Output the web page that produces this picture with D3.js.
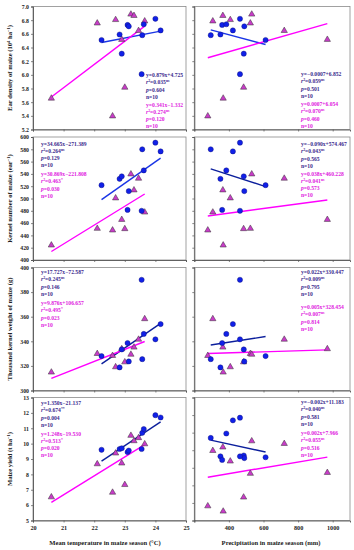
<!DOCTYPE html>
<html><head><meta charset="utf-8">
<script src="https://cdn.jsdelivr.net/npm/d3@7"></script>
<style>body{margin:0;background:#fff}</style>
</head><body><svg id="c" width="354" height="550"></svg>
<script>
// Series A (blue circles) and series B (magenta triangles)
const temperatureA   = [22.24, 22.83, 22.90, 23.09, 23.13, 23.57, 23.62, 23.55, 24.00, 24.17];
const precipitationA = [612, 351, 486, 361, 489, 295, 385, 464, 464, 423];
const earDensityA    = [6.51, 6.59, 6.31, 6.73, 6.71, 6.58, 6.74, 6.01, 6.82, 6.65];
const kernelNumberA  = [521.7, 532, 536, 481.5, 512, 580, 545.7, 480, 590.8, 576.6];
const kernelWeightA  = [328, 318.8, 333.4, 338.6, 323.6, 325.5, 346, 390, 341.6, 354];
const yieldA         = [9.6, 9.65, 9.7, 9.45, 9.55, 10.7, 10.95, 9.65, 11.85, 11.7];

const temperatureB   = [20.6, 22.1, 22.6, 22.7, 22.9, 23.0, 23.2, 23.3, 23.45, 23.65];
const precipitationB = [367, 524, 278, 408, 969, 485, 532, 365, 720, 307];
const earDensityB    = [5.65, 6.75, 5.39, 6.80, 6.51, 5.81, 6.88, 6.86, 6.64, 6.78];
const kernelNumberB  = [423.4, 450.5, 447.8, 500, 465, 450, 539, 513, 532, 477];
const kernelWeightB  = [314.5, 329.6, 328, 318.8, 333.5, 322.8, 329, 334.8, 341.2, 357.9];
const yieldB         = [6.5, 8.65, 6.8, 9.35, 8.7, 7.3, 10.5, 10.15, 10.35, 9.95];

// Tick values
const tempTicks   = [20, 21, 22, 23, 24, 25];
const precipTicks = [200, 400, 600, 800, 1000];
const precipLabels= ["", "400", "600", "800", "1000"];
const earTicks    = [5.2, 5.4, 5.6, 5.8, 6.0, 6.2, 6.4, 6.6, 6.8, 7.0];
const kernelTicks = [400, 420, 440, 460, 480, 500, 520, 540, 560, 580, 600];
const weightTicks = [300, 320, 340, 360, 380, 400];
const yieldTicks  = [5, 6, 7, 8, 9, 10, 11, 12, 13];
const yieldTicksRight = [6, 7, 8, 9, 10, 11, 12, 13];

// Regression annotation texts [equation, r2, significance, p]
const statsTempA = [["y=0.879x+4.725","0.035","ns","0.604"],["y=34.665x\u2212271.389","0.264","ns","0.129"],["y=17.727x\u221272.587","0.245","ns","0.146"],["y=1.350x\u221221.137","0.674","**","0.004"]];
const statsTempB = [["y=0.341x\u22121.332","0.274","ns","0.120"],["y=30.869x\u2212221.808","0.463","*","0.030"],["y=9.876x+106.657","0.495","*","0.023"],["y=1.248x\u221219.530","0.513","*","0.020"]];
const statsPrecA = [["y=\u22120.0007+6.852","0.059","ns","0.501"],["y=\u22120.090x+574.467","0.043","ns","0.565"],["y=0.022x+330.447","0.009","ns","0.795"],["y=\u22120.002x+11.183","0.040","ns","0.581"]];
const statsPrecB = [["y=0.0007+6.054","0.070","ns","0.460"],["y=0.038x+460.228","0.041","ns","0.573"],["y=0.005x+328.454","0.007","ns","0.814"],["y=0.002x+7.966","0.055","ns","0.516"]];
const sampleSize = "n=10";

const font = "'Liberation Serif','Times New Roman',serif";
const colA = "#1020e8", colB = "#c83cc8", lineB = "#ff00ff";
const lineA = {L:["#1a35e6","#1a35e6","#0c1f9c","#0c1f9c"], R:["#1a35e6","#0c1f9c","#0c1f9c","#0c1f9c"]};
const txtA = "#3b2a8e", txtB = "#e020e0";
const svg = d3.select("#c");

const xL = d3.scaleLinear().domain([20, 25]).range([33, 186]);
const xR = d3.scaleLinear().domain([200, 1100]).range([194.3, 350]);
const rowTop = [6.5, 137, 267.5, 397.5], rowH = 123;

const rows = [
  {dom:[5.2,7.0], ticks:earTicks, fmt:d3.format(".1f"), a:earDensityA, b:earDensityB,
   title:[["Ear density of maize (10"],["4",1],[" ha"],["\u22121",1],[")"]]},
  {dom:[400,600], ticks:kernelTicks, fmt:d3.format("d"), a:kernelNumberA, b:kernelNumberB,
   title:[["Kernel number of maize (ear"],["\u22121",1],[")"]]},
  {dom:[300,400], ticks:weightTicks, fmt:d3.format("d"), a:kernelWeightA, b:kernelWeightB,
   title:[["Thousand kernel weight of maize (g)"]]},
  {dom:[5,13], domR:[6,13], ticks:yieldTicks, ticksR:yieldTicksRight, fmt:d3.format("d"), a:yieldA, b:yieldB,
   title:[["Maize yield (t ha"],["\u22121",1],[")"]]}
];
const annoPos = [
  {L:[146,75,104.5], R:[301,74,104]},
  {L:[41,143.5,174], R:[301,144,173.5]},
  {L:[41,272,303], R:[301,272,307]},
  {L:[41,403,433.5], R:[301,402,433]}
];

function fit(xs, ys){
  const mx=d3.mean(xs), my=d3.mean(ys);
  let sxy=0,sxx=0; xs.forEach((x,i)=>{sxy+=(x-mx)*(ys[i]-my); sxx+=(x-mx)*(x-mx);});
  const b=sxy/sxx; return x=>my+b*(x-mx);
}
function rich(sel, parts, fs){
  parts.forEach(p=>{
    if(p[1]) sel.append("tspan").attr("font-size",fs*0.68).attr("dy",-fs*0.38).text(p[0]);
    else {
      const t=sel.append("tspan").text(p[0]);
      if(sel.selectAll("tspan").size()>1) t.attr("dy",fs*0.38);
    }
  });
}
function anno(g, x, y, st, color){
  const fs=5.6, lh=7.3;
  const mk=(i)=>g.append("text").attr("x",x).attr("y",y+i*lh+2).attr("fill",color)
      .attr("font-family",font).attr("font-weight","bold").attr("font-size",fs);
  mk(0).text(st[0]);
  const t1=mk(1); t1.append("tspan").attr("font-style","italic").text("r");
  t1.append("tspan").attr("font-size",fs*0.68).attr("dy",-fs*0.38).text("2");
  t1.append("tspan").attr("dy",fs*0.38).text("="+st[1]);
  t1.append("tspan").attr("font-size",fs*0.68).attr("dy",-fs*0.38).text(st[2]);
  const t2=mk(2); t2.append("tspan").attr("font-style","italic").text("p"); t2.append("tspan").text("="+st[3]);
  mk(3).text(sampleSize);
}

function panel(r, ri, side){
  const x = side==="L"?xL:xR;
  const xsA = side==="L"?temperatureA:precipitationA;
  const xsB = side==="L"?temperatureB:precipitationB;
  const dom = (side==="R" && r.domR) ? r.domR : r.dom;
  const ticks = (side==="R" && r.ticksR) ? r.ticksR : r.ticks;
  const y = d3.scaleLinear().domain(dom).range([rowTop[ri]+rowH, rowTop[ri]]);
  const g = svg.append("g");
  const [x0,x1]=x.range(), [y1,y0]=y.range();
  g.append("rect").attr("x",x0).attr("y",y0).attr("width",x1-x0).attr("height",y1-y0)
    .attr("fill","none").attr("stroke","#8a8a8a").attr("stroke-width",0.8);
  const ya = d3.axisLeft(y).tickValues(ticks).tickSize(2).tickPadding(2)
    .tickFormat(side==="L"?r.fmt:()=> "");
  const yg = g.append("g").attr("transform",`translate(${x0},0)`).call(ya);
  const xa = d3.axisBottom(x).tickValues(side==="L"?tempTicks:precipTicks).tickSize(2).tickPadding(3)
    .tickFormat(ri===3 ? (side==="L"? d3.format("d") : (d,i)=>precipLabels[i]) : ()=>"");
  const xg = g.append("g").attr("transform",`translate(0,${y1})`).call(xa);
  [yg,xg].forEach(a=>{
    a.select(".domain").attr("stroke","#555").attr("stroke-width",0.9);
    a.selectAll(".tick line").attr("stroke","#555").attr("stroke-width",0.7);
    a.selectAll("text").attr("font-family",font).attr("font-weight","bold").attr("font-size",5.8).attr("fill","#222");
  });
  xg.selectAll("text").attr("font-size",6.2);
  [[xsA,r.a,lineA[side][ri]],[xsB,r.b,lineB]].forEach(([xs,ys,c])=>{
    const f=fit(xs,ys), e=d3.extent(xs);
    g.append("line").attr("x1",x(e[0])).attr("y1",y(f(e[0]))).attr("x2",x(e[1])).attr("y2",y(f(e[1])))
      .attr("stroke",c).attr("stroke-width",1.4);
  });
  const tri = d3.symbol().type(d3.symbolTriangle).size(17);
  g.selectAll(".b").data(xsB.map((v,i)=>[v,r.b[i]])).join("path")
    .attr("d",tri).attr("transform",d=>`translate(${x(d[0])},${y(d[1])-0.4})`)
    .attr("fill",colB).attr("stroke","#333").attr("stroke-width",0.5);
  g.selectAll(".a").data(xsA.map((v,i)=>[v,r.a[i]])).join("circle")
    .attr("cx",d=>x(d[0])).attr("cy",d=>y(d[1])).attr("r",2.6)
    .attr("fill",colA).attr("stroke","#101070").attr("stroke-width",0.4);
  const p = annoPos[ri][side];
  anno(g, p[0], p[1], side==="L"?statsTempA[ri]:statsPrecA[ri], txtA);
  anno(g, p[0], p[2], side==="L"?statsTempB[ri]:statsPrecB[ri], txtB);
  if(side==="L"){
    const cy=(y0+y1)/2;
    const t=svg.append("text").attr("transform",`translate(12,${cy}) rotate(-90)`)
      .attr("text-anchor","middle").attr("font-family",font).attr("font-weight","bold")
      .attr("font-size",6.6).attr("fill","#222");
    rich(t, r.title, 6.6);
  }
}
rows.forEach((r,i)=>{panel(r,i,"L"); panel(r,i,"R");});

svg.append("text").attr("x",105).attr("y",545).attr("text-anchor","middle")
  .attr("font-family",font).attr("font-weight","bold").attr("font-size",6.6).attr("fill","#222")
  .text("Mean temperature in maize season (\u00B0C)");
svg.append("text").attr("x",271).attr("y",545).attr("text-anchor","middle")
  .attr("font-family",font).attr("font-weight","bold").attr("font-size",6.6).attr("fill","#222")
  .text("Precipitation in maize season (mm)");
</script></body></html>
